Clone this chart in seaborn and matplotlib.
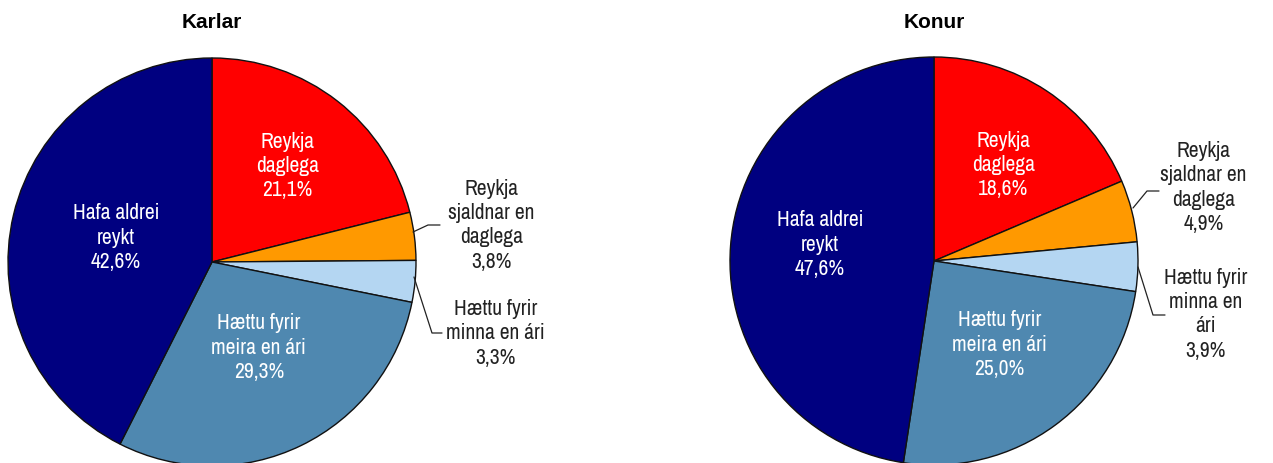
import matplotlib
matplotlib.use("Agg")
import matplotlib.pyplot as plt
import seaborn as sns
from matplotlib import font_manager

sns.set_theme(style="white")
names = sorted(set(f.name for f in font_manager.fontManager.ttflist))
fam = "Liberation Sans"
for n in names:
    if "Narrow" in n or "Condensed" in n:
        fam = n
        break
plt.rcParams["font.family"] = [fam, "DejaVu Sans"]

# Data
categories = ["Reykja daglega", "Reykja sjaldnar en daglega", "Hættu fyrir minna en ári",
              "Hættu fyrir meira en ári", "Hafa aldrei reykt"]
karlar = [21.1, 3.8, 3.3, 29.3, 42.6]
konur = [18.6, 4.9, 3.9, 25.0, 47.6]
titles = ["Karlar", "Konur"]
colors = sns.color_palette(["#FF0000", "#FF9900", "#B4D6F2", "#4F88B0", "#000080"])

karlar_labels = ["Reykja\ndaglega", "Reykja\nsjaldnar en\ndaglega", "Hættu fyrir\nminna en ári",
                 "Hættu fyrir\nmeira en ári", "Hafa aldrei\nreykt"]
konur_labels = ["Reykja\ndaglega", "Reykja\nsjaldnar en\ndaglega", "Hættu fyrir\nminna en\nári",
                "Hættu fyrir\nmeira en ári", "Hafa aldrei\nreykt"]

W, H = 1273, 463
fig = plt.figure(figsize=(W / 100, H / 100), dpi=100)

def fmt(v):
    return f"{v:.1f}".replace(".", ",") + "%"

specs = [
    dict(cx=212, cy=262, R=204, vals=karlar, labels=karlar_labels,
         pos=[(0.37, 0.47), (1.37, 0.18), (1.39, -0.35), (0.23, -0.42), (-0.47, 0.12)],
         lines=[[(413, 232), (428, 225), (440, 225)], [(414, 277), (432, 333), (442, 333)]]),
    dict(cx=934, cy=261, R=204, vals=konur, labels=konur_labels,
         pos=[(0.34, 0.47), (1.32, 0.36), (1.33, -0.26), (0.32, -0.41), (-0.56, 0.08)],
         lines=[[(1133, 208), (1147, 191), (1159, 191)], [(1138, 267), (1153, 315), (1165, 315)]]),
]

for title, s in zip(titles, specs):
    cx, cy, R = s["cx"], s["cy"], s["R"]
    ax = fig.add_axes([(cx - R) / W, (H - cy - R) / H, 2 * R / W, 2 * R / H])
    ax.pie(s["vals"], colors=colors, startangle=90, counterclock=False,
           wedgeprops=dict(edgecolor="#111111", linewidth=1.0), radius=1.0)
    ax.set_xlim(-1, 1)
    ax.set_ylim(-1, 1)
    ax.set_aspect("equal")
    ax.axis("off")
    for i, (lab, v, p) in enumerate(zip(s["labels"], s["vals"], s["pos"])):
        col = "white" if i in (0, 3, 4) else "#222222"
        ax.text(p[0], p[1], lab + "\n" + fmt(v), ha="center", va="center",
                fontsize=15.5, color=col, linespacing=1.27, clip_on=False)
    for ln in s["lines"]:
        xs = [(x - cx) / R for x, y in ln]
        ys = [-(y - cy) / R for x, y in ln]
        ax.plot(xs, ys, color="#222222", lw=0.9, clip_on=False)
    fig.text(cx / W, 1 - 23 / H, title, ha="center", va="center",
             fontsize=15, fontweight="bold", color="black",
             family=["Liberation Sans", "DejaVu Sans"])

fig.savefig("out.png", dpi=100)
